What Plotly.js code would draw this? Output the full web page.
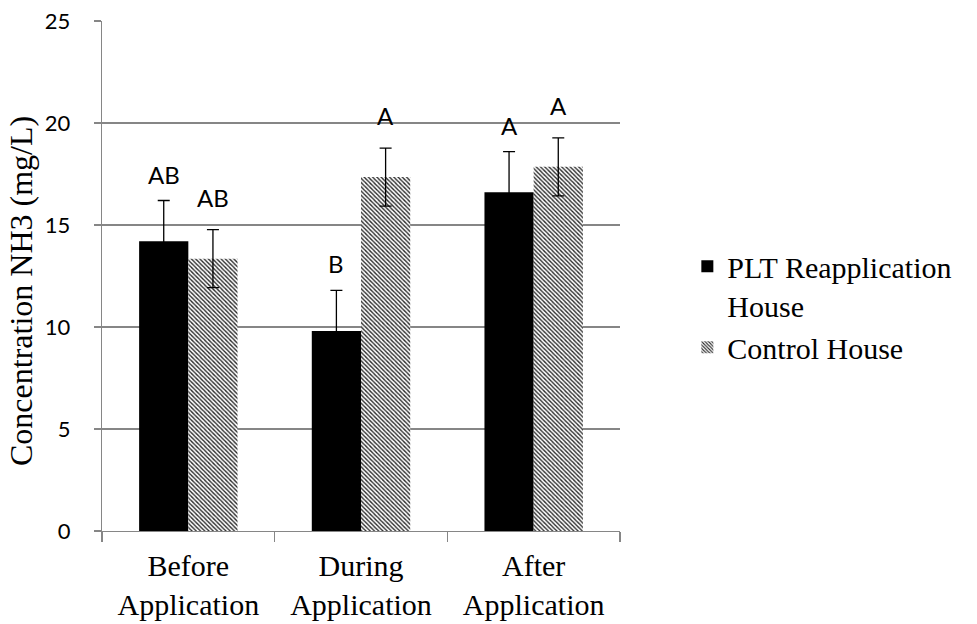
<!DOCTYPE html>
<html>
<head>
<meta charset="utf-8">
<script src="https://cdn.plot.ly/plotly-3.0.1.min.js"></script>
<style>html,body{margin:0;padding:0;background:#fff;}#chart{width:977px;height:624px;}</style>
</head>
<body>
<div id="chart"></div>
<script>
var categories = ['Before<br>Application', 'During<br>Application', 'After<br>Application'];
var seriesNames = ['PLT Reapplication<br>House', 'Control House'];
var pltValues = [14.2, 9.8, 16.6];
var pltErrors = [2.0, 2.0, 2.0];
var controlValues = [13.35, 17.35, 17.85];
var controlErrors = [1.42, 1.42, 1.42];
var pltLetters = ['AB', 'B', 'A'];
var controlLetters = ['AB', 'A', 'A'];
var yTicks = [0, 5, 10, 15, 20, 25];
var yTitle = 'Concentration NH3 (mg/L)';

var GRID = '#868686';
var SERIF = 'Liberation Serif';
var SANS = 'Lato';

var traces = [
  {
    type: 'bar', name: seriesNames[0], x: categories, y: pltValues,
    marker: {color: '#000000', line: {width: 0}},
    error_y: {type: 'data', array: pltErrors, visible: true, color: '#000000', thickness: 1.3, width: 6}
  },
  {
    type: 'bar', name: seriesNames[1], x: categories, y: controlValues,
    marker: {color: '#ffffff', line: {width: 0},
      pattern: {shape: '\\', fgcolor: '#2a2a2a', bgcolor: '#ffffff', size: 3, solidity: 0.45}},
    error_y: {type: 'data', array: controlErrors, visible: true, color: '#000000', thickness: 1.3, width: 6}
  }
];

var BARGAP = 0.43;
var half = (1 - BARGAP) / 4;
var annotations = [];
for (var i = 0; i < categories.length; i++) {
  annotations.push({x: i - half, y: pltValues[i] + pltErrors[i], xref: 'x', yref: 'y', text: pltLetters[i],
    showarrow: false, yanchor: 'bottom', yshift: 10, font: {family: SANS, size: 24, color: '#000'}});
  annotations.push({x: i + half, y: controlValues[i] + controlErrors[i], xref: 'x', yref: 'y', text: controlLetters[i],
    showarrow: false, yanchor: 'bottom', yshift: 16, font: {family: SANS, size: 24, color: '#000'}});
}
annotations.push({xref: 'paper', yref: 'paper', x: -0.155, y: 0.47, xanchor: 'center', yanchor: 'middle',
  text: yTitle, textangle: -90, showarrow: false, font: {family: SERIF, size: 32, color: '#000'}});

var layout = {
  width: 977, height: 624,
  font: {family: SERIF, color: '#000'},
  margin: {l: 102, r: 357, t: 21, b: 93},
  paper_bgcolor: '#ffffff', plot_bgcolor: '#ffffff',
  barmode: 'group', bargap: BARGAP, bargroupgap: 0,
  showlegend: true,
  legend: {x: 1.13, y: 0.57, xanchor: 'left', yanchor: 'top', valign: 'top',
    font: {family: 'Times New Roman', size: 30, color: '#000000'},
    bgcolor: 'rgba(0,0,0,0)', tracegroupgap: 0, itemwidth: 30, traceorder: 'normal'},
  xaxis: {
    type: 'category', showline: true, linecolor: GRID, linewidth: 1.2,
    ticks: 'outside', tickson: 'boundaries', ticklen: 10, tickcolor: GRID, tickwidth: 1.2,
    showgrid: false, tickfont: {family: SERIF, size: 30, color: '#000'}, ticklabelstandoff: 8, automargin: false
  },
  yaxis: {
    range: [0, 25], tickvals: yTicks, ticktext: yTicks.map(String),
    showline: true, linecolor: GRID, linewidth: 1.2,
    ticks: 'outside', ticklen: 7, tickcolor: GRID, tickwidth: 1.2,
    showgrid: true, gridcolor: GRID, gridwidth: 1.2, zeroline: false,
    tickfont: {family: SANS, size: 22, color: '#000'}, ticklabelstandoff: 19,
    automargin: false
  },
  annotations: annotations
};

Plotly.newPlot('chart', traces, layout, {displayModeBar: false, staticPlot: true});
</script>
</body>
</html>
